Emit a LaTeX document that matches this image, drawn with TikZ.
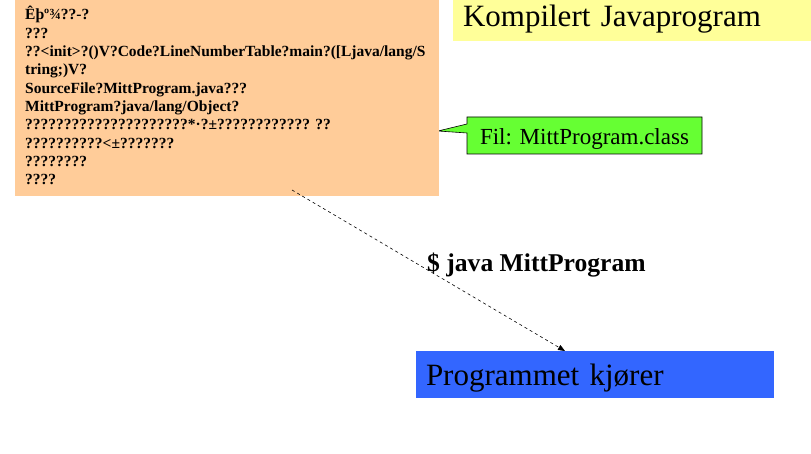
\documentclass[tikz,border=0pt]{standalone}
\usepackage{fontspec}
\setmainfont{Liberation Serif}
\usetikzlibrary{arrows.meta,calc}
\pgfdeclarelayer{background}
\pgfsetlayers{background,main}

\definecolor{codefill}{HTML}{FFCC99}
\definecolor{titlefill}{HTML}{FFFF99}
\definecolor{notefill}{HTML}{66FF33}
\definecolor{runfill}{HTML}{3366FF}

\tikzset{
  panel/.style={rectangle, inner sep=0pt, outer sep=0pt},
  bytecode/.style={anchor=base west, inner sep=0pt,
    font=\fontsize{15.5}{18}\selectfont\bfseries},
  runcmd/.style={-{Triangle[length=7pt,width=5.5pt]}, line width=0.6pt,
    dash pattern=on 3pt off 3pt},
}

\begin{document}
\begin{tikzpicture}[x=1pt,y=-1pt]
  \useasboundingbox (0,0) rectangle (811,454);
  \begin{pgfonlayer}{background}
    \fill[white] (0,0) rectangle (811,454);
  \end{pgfonlayer}

  % garbled class-file bytes
  \node[panel, fill=codefill, minimum width=424pt, minimum height=196pt,
        anchor=north west] (code) at (15,0) {};
  \foreach \txt [count=\i] in {%
      {Êþº¾??-?},
      {???},
      {??<init>?()V?Code?LineNumberTable?main?([Ljava/lang/S},
      {tring;)V?},
      {SourceFile?MittProgram.java???},
      {MittProgram?java/lang/Object?},
      {?????????????????????*·?±???????????? ??},
      {??????????<±???????},
      {????????},
      {????}}
    \node[bytecode] (line\i) at (25,{20+(\i-1)*18.33}) {\txt};

  % heading
  \node[panel, fill=titlefill, minimum width=358pt, minimum height=41pt,
        anchor=north west, text width=338pt, align=left, inner xsep=10pt,
        text height=20pt, text depth=7pt,
        font=\fontsize{31}{36}\selectfont] (title) at (453,0)
        {Kompilert Javaprogram};

  % file-name callout
  \node[panel, minimum width=235pt, minimum height=37pt, anchor=north west,
        text height=19pt, text depth=0pt,
        font=\fontsize{23}{27}\selectfont] (fil) at (467,117)
        {Fil: MittProgram.class};
  \coordinate (tip) at (438,131);
  \begin{pgfonlayer}{background}
    \draw[fill=notefill, line width=0.6pt, line join=miter]
      (fil.north west) -- (fil.north east) -- (fil.south east)
      -- (fil.south west) -- ($(fil.north west)+(0,16)$) -- (tip)
      -- ($(fil.north west)+(0,7)$) -- cycle;
  \end{pgfonlayer}

  % running program
  \node[panel, fill=runfill, minimum width=358pt, minimum height=47pt,
        anchor=north west, text width=338pt, align=left, inner xsep=10pt,
        text height=21pt, text depth=0pt,
        font=\fontsize{31}{36}\selectfont] (run) at (416,351)
        {Programmet kjører};

  % java command
  \coordinate (from) at (292,190);
  \coordinate (to) at ($(run.north west)+(149,0)$);
  \draw[runcmd] (from) -- (to);
  \node[anchor=base west, inner sep=0pt,
        font=\fontsize{25.6}{30}\selectfont\bfseries] (cmd) at (427,272)
        {\$ java MittProgram};
\end{tikzpicture}
\end{document}
